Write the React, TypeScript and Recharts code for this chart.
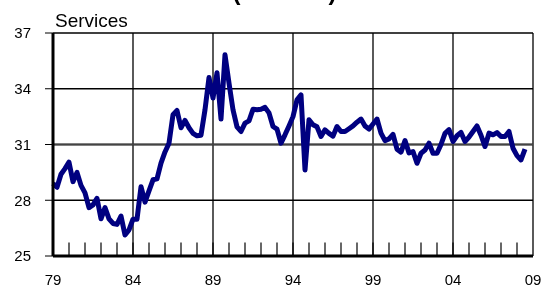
import { LineChart, Line, XAxis, YAxis, CartesianGrid, ReferenceLine } from "recharts";

// quarterly readings, 1979Q1 .. 2008Q3
const START_YEAR = 1979;
const SERVICES = [
  28.9, 28.7, 29.4, 29.7,
  30.05, 29.0, 29.5, 28.8,
  28.4, 27.6, 27.75, 28.1,
  27.0, 27.6, 27.0, 26.75,
  26.7, 27.15, 26.13, 26.4,
  26.98, 26.98, 28.73, 27.9,
  28.5, 29.1, 29.15, 30.0,
  30.6, 31.07, 32.6, 32.83,
  31.9, 32.3, 31.9, 31.6,
  31.47, 31.5, 32.87, 34.6,
  33.5, 34.86, 32.37, 35.83,
  34.3, 32.87, 31.95, 31.7,
  32.15, 32.27, 32.9, 32.87,
  32.9, 33.0, 32.7, 31.97,
  31.83, 31.07, 31.52, 32.0,
  32.5, 33.4, 33.67, 29.63,
  32.33, 32.06, 31.95, 31.43,
  31.79, 31.6, 31.45, 31.97,
  31.7, 31.7, 31.85, 32.0,
  32.2, 32.37, 32.0, 31.83,
  32.1, 32.37, 31.61, 31.21,
  31.3, 31.55, 30.75, 30.59,
  31.21, 30.55, 30.62, 29.99,
  30.53, 30.7, 31.07, 30.53,
  30.53, 31.0, 31.6, 31.8,
  31.16, 31.47, 31.65, 31.16,
  31.4, 31.7, 32.0, 31.5,
  30.89, 31.61, 31.52, 31.64,
  31.43, 31.43, 31.7, 30.8,
  30.4, 30.17, 30.75,
];

const X_TICKS = [1979, 1984, 1989, 1994, 1999, 2004, 2009];
const X_LABELS = ["79", "84", "89", "94", "99", "04", "09"];
const Y_TICKS = [25, 28, 31, 34, 37];
const MINOR_YEARS = Array.from({ length: 29 }, (_, i) => 1980 + i);

const data = SERVICES.map((v, i) => ({ t: START_YEAR + i * 0.25, v }));

const FONT = "'Liberation Sans', Arial, sans-serif";

export default function App() {
  return (
    <div style={{ position: "fixed", left: 0, top: 0, width: 545, height: 288, background: "#fff", fontFamily: FONT }}>
      <div
        style={{
          position: "absolute",
          left: 0,
          width: 569,
          top: -20,
          textAlign: "center",
          fontSize: 24,
          lineHeight: "24px",
          fontWeight: "bold",
          whiteSpace: "nowrap",
        }}
      >
        (Percent)
      </div>
      <div style={{ position: "absolute", left: 55, top: 11, fontSize: 19, lineHeight: "19px" }}>Services</div>
      <LineChart width={545} height={288} data={data} margin={{ top: 33, right: 12, left: 0, bottom: 0 }}>
        <CartesianGrid stroke="#000" strokeWidth={1.3} />
        <XAxis
          dataKey="t"
          type="number"
          domain={[1979, 2009]}
          ticks={X_TICKS}
          tickFormatter={(t) => X_LABELS[X_TICKS.indexOf(t)] ?? ""}
          tickLine={false}
          axisLine={{ stroke: "#000", strokeWidth: 3 }}
          tickMargin={12}
          height={32}
          tick={{ fontSize: 15, fill: "#000", fontFamily: FONT }}
          interval={0}
        />
        <YAxis
          type="number"
          domain={[25, 37]}
          ticks={Y_TICKS}
          width={53}
          tickSize={8}
          tickMargin={14}
          tickLine={{ stroke: "#000" }}
          axisLine={{ stroke: "#000", strokeWidth: 3 }}
          tick={{ fontSize: 15, fill: "#000", fontFamily: FONT }}
          interval={0}
        />
        <ReferenceLine y={31} stroke="#444" strokeWidth={2} />
        {MINOR_YEARS.map((yr) => (
          <ReferenceLine
            key={yr}
            segment={[
              { x: yr, y: 25 },
              { x: yr, y: 25.72 },
            ]}
            stroke="#000"
            strokeWidth={1.2}
          />
        ))}
        <Line
          dataKey="v"
          stroke="#000080"
          strokeWidth={5}
          dot={false}
          isAnimationActive={false}
          strokeLinejoin="round"
        />
      </LineChart>
    </div>
  );
}
